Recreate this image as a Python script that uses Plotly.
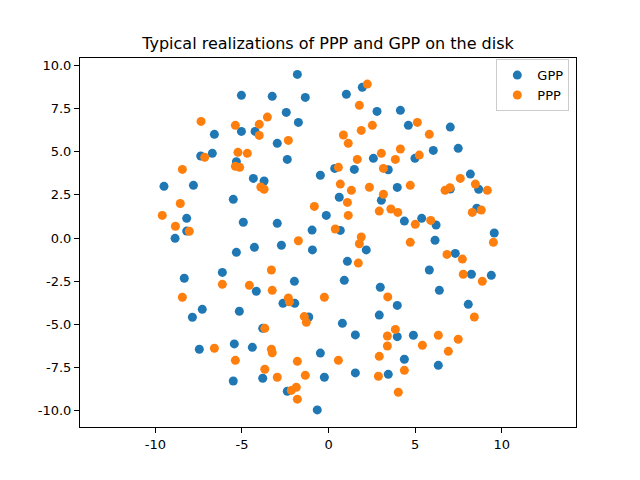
import plotly.graph_objects as go

gpp_x = [-5.03, -6.59, -5.03, -4.24, -7.38, -6.71, -5.32, -4.34, -3.72, -9.5, -7.8, -5.5, -4.92, -8.19, -8.19, -8.86,
         -1.8, -3.25, -1.34, 1.03, 1.95, -2.44, -1.74, 2.8, -2.96, -2.38, -0.47, 0.36, 1.49, 2.59, 0.62, 3.05, -0.13, -2.96, -0.95, 0.68,
         4.15, 4.61, 7.03, 6.05, 7.49, 4.99, 3.45, 8.19, 3.97, 7.03, 8.67, 8.56, 4.38, 5.38, 6.21, 9.57, 6.15,
         -5.32, -4.28, -6.13, -8.33, -4.17, -7.29, -7.86, -5.15, -3.8, -7.46, -5.44, -4.4, -5.5, -3.8,
         -2.72, -0.93, 1.09, 2.18, -1.97, 0.91, 2.99, -2.63, -1.95, -1.14, 0.8, 1.55, 2.93, -0.47, -0.24, 1.55, 3.45, -2.38, -0.65,
         7.32, 5.82, 8.25, 9.4, 6.4, 3.97, 8.07, 3.97, 4.9, 4.38, 6.34]
gpp_y = [8.26, 6.0, 6.17, 6.17, 4.75, 4.9, 4.42, 3.45, 3.3, 2.99, 3.05, 2.24, 0.91, 1.14, 0.4, -0.02,
         9.47, 8.2, 8.14, 8.32, 8.72, 7.27, 6.69, 7.33, 5.48, 4.55, 3.63, 4.03, 3.97, 4.61, 2.36, 2.18, 1.31, 0.85, 0.46, 0.44,
         7.39, 6.52, 6.42, 5.07, 5.19, 4.61, 3.95, 3.7, 2.93, 2.84, 2.82, 1.72, 0.98, 1.14, 0.75, 0.29, -0.13,
         -0.83, -0.54, -1.99, -2.33, -3.08, -4.13, -4.59, -4.24, -5.23, -6.44, -6.13, -6.33, -8.28, -8.12,
         -0.42, -0.69, -1.35, -0.69, -2.51, -2.45, -2.85, -3.78, -3.78, -4.57, -4.94, -5.61, -4.46, -6.66, -8.06, -7.81, -7.89, -8.87, -9.95,
         -0.89, -1.85, -2.1, -2.16, -3.03, -3.9, -3.84, -5.71, -5.63, -7.02, -7.37]

ppp_x = [-7.36, -5.38, -4.0, -4.0, -3.53, -7.15, -5.23, -4.69, -5.38, -5.13, -8.44, -3.91, -3.72, -8.56, -9.6, -8.84, -8.04,
         2.24, 1.78, -2.32, 1.89, 2.53, 0.86, 1.14, 1.66, 3.05, 3.17, 0.57, 0.68, 1.32, 2.36, 3.17, 1.09, 2.93, 3.6, -0.82, 1.14, 0.39, -1.74, 1.89, 1.78,
         5.13, 5.82, 4.15, 3.86, 5.24, 4.72, 7.61, 8.48, 9.17, 6.73, 7.01, 4.0, 5.9, 5.01, 8.3, 8.82, 4.72, 9.52,
         -6.13, -4.57, -8.44, -3.68, -6.59, -5.38, -3.68,
         1.72, -3.3, -3.25, -2.32, -2.26, -0.24, 3.42, -1.4, -1.28, 3.4, 3.4, -3.3, -3.25, -1.8, 0.57, 2.93, -2.96, -1.34, 2.88, -2.15, -1.86, -1.8,
         6.84, 7.73, 7.78, 8.88, 8.42, 3.86, 5.42, 6.34, 7.49, 6.92, 4.38, 4.03]
ppp_y = [6.75, 6.52, 6.58, 5.94, 7.0, 4.67, 4.96, 4.9, 4.15, 4.09, 3.97, 2.95, 2.82, 2.0, 1.31, 0.68, 0.39,
         8.91, 7.68, 5.65, 6.23, 6.52, 5.96, 5.48, 4.55, 4.9, 4.03, 4.09, 3.12, 2.76, 2.94, 2.53, 2.06, 1.56, 1.68, 1.83, 1.31, 0.52, -0.16, 0.06, -0.33,
         6.69, 6.0, 5.15, 4.55, 4.8, 3.05, 3.45, 3.12, 2.76, 2.76, 2.91, 1.48, 1.02, 0.79, 1.48, 1.62, -0.25, -0.25,
         -2.68, -2.74, -3.43, -5.23, -6.38, -7.08, -7.6,
         -1.45, -1.85, -3.03, -3.47, -3.69, -3.43, -3.41, -4.55, -4.88, -5.67, -6.25, -6.44, -6.64, -7.14, -7.08, -6.85, -8.06, -7.95, -8.0, -8.82, -8.64, -9.33,
         -0.95, -1.22, -2.1, -2.51, -4.57, -5.29, -6.21, -5.63, -5.86, -6.56, -7.66, -8.93]

x_ticks = [-10, -5, 0, 5, 10]
y_ticks = [-10.0, -7.5, -5.0, -2.5, 0.0, 2.5, 5.0, 7.5, 10.0]

fig = go.Figure()
fig.add_trace(go.Scatter(x=gpp_x, y=gpp_y, mode="markers", name="GPP",
                         marker=dict(color="#1f77b4", size=9, line=dict(width=0))))
fig.add_trace(go.Scatter(x=ppp_x, y=ppp_y, mode="markers", name="PPP",
                         marker=dict(color="#ff7f0e", size=9, line=dict(width=0))))

axis_common = dict(showgrid=False, zeroline=False, showline=True, linecolor="black", linewidth=1,
                   mirror=True, ticks="outside", ticklen=5, tickwidth=1, tickcolor="black",
                   tickfont=dict(family="DejaVu Sans", size=13, color="black"))
fig.update_xaxes(range=[-14.35, 14.29], tickvals=x_ticks, ticktext=[str(v) for v in x_ticks], **axis_common)
fig.update_yaxes(range=[-10.94, 10.42], tickvals=y_ticks, ticktext=[f"{v:.1f}" for v in y_ticks], **axis_common)

fig.update_layout(
    width=640, height=480,
    margin=dict(l=72, r=72, t=50, b=61),
    paper_bgcolor="white", plot_bgcolor="white",
    title=dict(text="Typical realizations of PPP and GPP on the disk", x=0.5, xref="paper",
               y=1 - 35 / 480, yref="container", xanchor="center", yanchor="middle",
               font=dict(family="DejaVu Sans", size=16, color="black")),
    font=dict(family="DejaVu Sans", color="black"),
    legend=dict(x=0.9865, y=0.997, xanchor="right", yanchor="top", bordercolor="#cccccc", borderwidth=1,
                bgcolor="rgba(255,255,255,0.8)", font=dict(family="DejaVu Sans", size=13, color="black"),
                itemwidth=30, tracegroupgap=2),
    showlegend=True,
)

fig.write_html("out.html")
